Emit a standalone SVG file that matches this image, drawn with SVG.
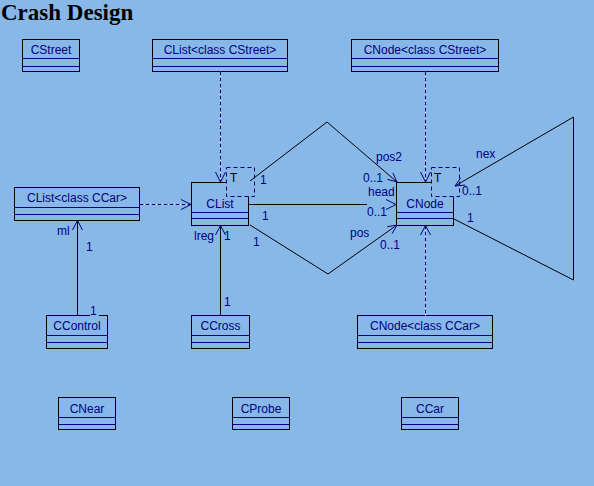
<svg xmlns="http://www.w3.org/2000/svg" width="594" height="486" viewBox="0 0 594 486">
<style>
.bg{fill:#88B8E8}
.box{fill:#88B8E8;stroke:#000;stroke-width:1}
.sep{stroke:#000080;stroke-width:1}
.t{font-family:"Liberation Sans",Arial,sans-serif;font-size:12px;fill:#000080}
.c{text-anchor:middle}
.title{font-family:"Liberation Serif","Times New Roman",serif;font-size:23px;font-weight:bold;fill:#000}
.tpl{fill:#88B8E8;stroke:#000080;stroke-width:1;stroke-dasharray:4 3}
.ln{fill:none;stroke:#000;stroke-width:1}
.dw{fill:none;stroke:#fff;stroke-width:1}
.dn{fill:none;stroke:#000080;stroke-width:1;stroke-dasharray:4 2}
.ah{fill:none;stroke:#000080;stroke-width:1}
</style>
<rect class="bg" x="0" y="0" width="594" height="486"/>
<text class="title" x="1" y="20">Crash Design</text>

<g id="CStreet">
<rect class="box" x="22.5" y="39.5" width="57" height="32"/>
<line class="sep" x1="22.5" y1="58.5" x2="79.5" y2="58.5"/><line class="sep" x1="22.5" y1="66.5" x2="79.5" y2="66.5"/>
<text class="t c" x="51" y="53.5">CStreet</text>
</g>
<g id="CList_CStreet">
<rect class="box" x="152.5" y="39.5" width="135" height="32"/>
<line class="sep" x1="152.5" y1="58.5" x2="287.5" y2="58.5"/><line class="sep" x1="152.5" y1="66.5" x2="287.5" y2="66.5"/>
<text class="t c" x="220" y="53.5">CList&lt;class CStreet&gt;</text>
</g>
<g id="CNode_CStreet">
<rect class="box" x="351.5" y="39.5" width="147" height="32"/>
<line class="sep" x1="351.5" y1="58.5" x2="498.5" y2="58.5"/><line class="sep" x1="351.5" y1="66.5" x2="498.5" y2="66.5"/>
<text class="t c" x="425" y="53.5">CNode&lt;class CStreet&gt;</text>
</g>
<g id="CList_CCar">
<rect class="box" x="14.5" y="187.5" width="125" height="33"/>
<line class="sep" x1="14.5" y1="207.5" x2="139.5" y2="207.5"/><line class="sep" x1="14.5" y1="214.5" x2="139.5" y2="214.5"/>
<text class="t c" x="77" y="202">CList&lt;class CCar&gt;</text>
</g>
<g id="CList">
<rect class="box" x="191.5" y="182.5" width="57" height="43"/>
<line class="sep" x1="191.5" y1="212.5" x2="248.5" y2="212.5"/><line class="sep" x1="191.5" y1="218.5" x2="248.5" y2="218.5"/>
<text class="t c" x="220" y="207.5">CList</text>
<rect class="tpl" x="226.5" y="167.5" width="28" height="29"/>
<text class="t" x="230" y="182" style="fill:#000">T</text>
</g>
<g id="CNode">
<rect class="box" x="396.5" y="182.5" width="57" height="43"/>
<line class="sep" x1="396.5" y1="212.5" x2="453.5" y2="212.5"/><line class="sep" x1="396.5" y1="218.5" x2="453.5" y2="218.5"/>
<text class="t c" x="425" y="207.5">CNode</text>
<rect class="tpl" x="431.5" y="167.5" width="28" height="29"/>
<text class="t" x="434" y="182" style="fill:#000">T</text>
</g>
<g id="CControl">
<rect class="box" x="46.5" y="315.5" width="61" height="33"/>
<line class="sep" x1="46.5" y1="335.5" x2="107.5" y2="335.5"/><line class="sep" x1="46.5" y1="342.5" x2="107.5" y2="342.5"/>
<text class="t c" x="77" y="330">CControl</text>
</g>
<g id="CCross">
<rect class="box" x="191.5" y="315.5" width="58" height="33"/>
<line class="sep" x1="191.5" y1="335.5" x2="249.5" y2="335.5"/><line class="sep" x1="191.5" y1="342.5" x2="249.5" y2="342.5"/>
<text class="t c" x="220.5" y="330">CCross</text>
</g>
<g id="CNode_CCar">
<rect class="box" x="357.5" y="315.5" width="135" height="33"/>
<line class="sep" x1="357.5" y1="335.5" x2="492.5" y2="335.5"/><line class="sep" x1="357.5" y1="342.5" x2="492.5" y2="342.5"/>
<text class="t c" x="425" y="330">CNode&lt;class CCar&gt;</text>
</g>
<g id="CNear">
<rect class="box" x="58.5" y="397.5" width="57" height="32"/>
<line class="sep" x1="58.5" y1="417.5" x2="115.5" y2="417.5"/><line class="sep" x1="58.5" y1="424.5" x2="115.5" y2="424.5"/>
<text class="t c" x="87" y="413">CNear</text>
</g>
<g id="CProbe">
<rect class="box" x="232.5" y="397.5" width="57" height="32"/>
<line class="sep" x1="232.5" y1="417.5" x2="289.5" y2="417.5"/><line class="sep" x1="232.5" y1="424.5" x2="289.5" y2="424.5"/>
<text class="t c" x="261" y="413">CProbe</text>
</g>
<g id="CCar">
<rect class="box" x="401.5" y="397.5" width="57" height="32"/>
<line class="sep" x1="401.5" y1="417.5" x2="458.5" y2="417.5"/><line class="sep" x1="401.5" y1="424.5" x2="458.5" y2="424.5"/>
<text class="t c" x="430" y="413">CCar</text>
</g>

<g id="connectors">
<path class="dw" d="M220.5 71.5V182 M425.5 71.5V182 M425.5 225.5V315.5 M139.5 204.5H191"/>
<path class="dn" d="M220.5 71.5V182 M425.5 71.5V182 M425.5 225.5V315.5 M139.5 204.5H191"/>
<path class="ah" d="M215.5 172L220.5 182L225.5 172 M420.5 172L425.5 182L430.5 172 M420.5 235L425.5 225.5L430.5 235 M181 199.5L191 204.5L181 209.5"/>
<path class="ln" d="M77.5 315.5V220.5 M220.5 315.5V225.5"/>
<path class="ah" d="M72.5 230L77.5 220.5L82.5 230 M215.5 235L220.5 225.5L225.5 235"/>
<path class="ln" d="M250 181L327 122L397 182"/>
<path class="ah" d="M392.9 172.9L397 182L387.4 179.3"/>
<path class="ln" d="M248.5 204.5H367"/>
<path class="ah" d="M386 199.5L396 204.5L386 209.5"/>
<path class="ln" d="M250 225L328 274L397 225"/>
<path class="ah" d="M387.2 226.8L397 225L392.1 233.7"/>
<path class="ln" d="M454 219L573.5 280V117L455 186"/>
<path class="ah" d="M465 185.1L455 186L460.7 177.8"/>
<rect class="bg" x="90" y="305" width="9" height="11"/>
<text class="t" x="57" y="235">ml</text>
<text class="t" x="86" y="251">1</text>
<text class="t" x="90" y="315">1</text>
<text class="t" x="194" y="240">lreg</text>
<text class="t" x="224" y="240">1</text>
<text class="t" x="224" y="306">1</text>
<text class="t" x="260" y="184">1</text>
<text class="t" x="262" y="220">1</text>
<text class="t" x="253" y="246">1</text>
<text class="t" x="376" y="161">pos2</text>
<text class="t" x="363" y="181.5">0..1</text>
<text class="t" x="368" y="195.5">head</text>
<text class="t" x="367" y="216">0..1</text>
<text class="t" x="350" y="237">pos</text>
<text class="t" x="380" y="249">0..1</text>
<text class="t" x="476" y="158">nex</text>
<text class="t" x="462" y="195">0..1</text>
<text class="t" x="467" y="222">1</text>
</g>
</svg>
